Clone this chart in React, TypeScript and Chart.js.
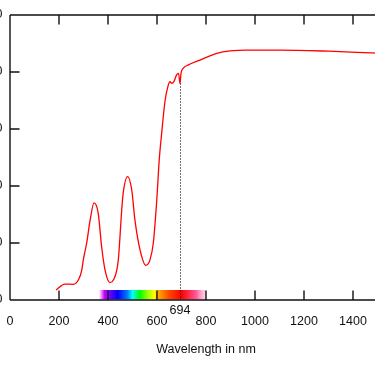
import React, { useEffect, useRef } from "react";
import { Chart, registerables } from "chart.js";

Chart.register(...registerables);

// Absorption / transmission spectrum data (wavelength in nm, value in %)
const wavelengths = [188, 224, 258, 279, 293, 299, 313, 327, 343, 360, 374, 388, 408, 422, 442, 456, 462, 480, 497, 510, 531, 554, 571, 585, 599, 609, 619, 633, 646, 653, 660, 669, 680, 688, 694, 698, 707, 728, 776, 844, 898, 966, 1100, 1300, 1500, 1600];
const transmission = [3.5, 5.6, 5.5, 7.0, 10.5, 14, 20, 28, 34.1, 30.5, 18.7, 10.5, 6.1, 7.0, 14, 31.6, 37.5, 43.3, 38.6, 28, 17.5, 12.2, 14, 20, 35, 49, 58.5, 70, 75.4, 76.6, 76, 76.6, 79, 79.5, 76, 79.5, 81.3, 82.5, 84.2, 86.5, 87.4, 87.7, 87.7, 87.3, 86.6, 86.3];

const xTickMin = 0;
const xTickMax = 1600;
const xTickStep = 200;
const yTickMin = 0;
const yTickMax = 100;
const yTickStep = 20;

const markerNm = 694;
const markerValue = 76;
const markerLabel = "694";

const spectrumNm = [363, 385, 410, 440, 480, 500, 530, 570, 590, 605, 650, 700, 760, 800];
const spectrumColors = [
  "rgba(255,0,255,0)",
  "rgba(200,0,255,1)",
  "rgba(100,0,255,1)",
  "rgba(0,0,255,1)",
  "rgba(0,128,255,1)",
  "rgba(0,255,255,1)",
  "rgba(0,255,0,1)",
  "rgba(190,255,0,1)",
  "rgba(255,255,0,1)",
  "rgba(255,170,0,1)",
  "rgba(255,70,0,1)",
  "rgba(255,0,0,1)",
  "rgba(255,90,150,1)",
  "rgba(255,160,210,0.4)",
];

const FONT = "'Liberation Sans', Arial, sans-serif";
const TEXT = "#111";

const framePlugin = {
  id: "framePlugin",
  beforeDatasetsDraw(chart: any) {
    const { ctx, chartArea, scales } = chart;
    const x = scales.x;
    const { bottom } = chartArea;
    const x0 = x.getPixelForValue(spectrumNm[0]);
    const x1 = x.getPixelForValue(spectrumNm[spectrumNm.length - 1]);
    const g = ctx.createLinearGradient(x0, 0, x1, 0);
    const span = spectrumNm[spectrumNm.length - 1] - spectrumNm[0];
    spectrumNm.forEach((nm, i) => g.addColorStop((nm - spectrumNm[0]) / span, spectrumColors[i]));
    ctx.save();
    ctx.fillStyle = g;
    ctx.fillRect(x0, bottom - 10, x1 - x0, 9.5);
    ctx.restore();
  },
  afterDatasetsDraw(chart: any) {
    const { ctx, chartArea, scales } = chart;
    const { left, right, top, bottom } = chartArea;
    const x = scales.x;
    const y = scales.y;
    ctx.save();
    ctx.strokeStyle = "#111";
    ctx.lineWidth = 1.4;
    ctx.beginPath();
    ctx.moveTo(left, top);
    ctx.lineTo(right, top);
    ctx.moveTo(left, top);
    ctx.lineTo(left, bottom);
    ctx.moveTo(left, bottom);
    ctx.lineTo(right, bottom);
    ctx.moveTo(right, top);
    ctx.lineTo(right, bottom);
    const tl = 9.5;
    x.ticks.forEach((t: any) => {
      const px = x.getPixelForValue(t.value);
      ctx.moveTo(px, bottom);
      ctx.lineTo(px, bottom - tl);
      ctx.moveTo(px, top);
      ctx.lineTo(px, top + tl);
    });
    y.ticks.forEach((t: any) => {
      const py = y.getPixelForValue(t.value);
      ctx.moveTo(left, py);
      ctx.lineTo(left + tl, py);
      ctx.moveTo(right, py);
      ctx.lineTo(right - tl, py);
    });
    ctx.stroke();

    // dotted marker
    const mx = Math.round(x.getPixelForValue(markerNm)) + 0.5;
    ctx.beginPath();
    ctx.lineWidth = 1;
    ctx.setLineDash([1.2, 1.8]);
    ctx.moveTo(mx, y.getPixelForValue(markerValue));
    ctx.lineTo(mx, bottom);
    ctx.stroke();
    ctx.setLineDash([]);

    ctx.fillStyle = TEXT;
    ctx.font = `12.5px ${FONT}`;
    ctx.textAlign = "center";
    ctx.textBaseline = "middle";
    ctx.fillText(markerLabel, x.getPixelForValue(markerNm), bottom + 10.5);
    ctx.restore();
  },
};

export default function App() {
  const ref = useRef<HTMLCanvasElement | null>(null);

  useEffect(() => {
    if (!ref.current) return;
    const data = wavelengths.map((w, i) => ({ x: w, y: transmission[i] }));
    const chart = new Chart(ref.current, {
      type: "line",
      data: {
        datasets: [
          {
            data,
            borderColor: "#ff0000",
            borderWidth: 1.3,
            pointRadius: 0,
            fill: false,
            cubicInterpolationMode: "monotone",
          },
        ],
      },
      options: {
        animation: false,
        responsive: false,
        devicePixelRatio: 1,
        layout: { padding: { top: 15, right: 38, left: 0, bottom: 0 } },
        plugins: { legend: { display: false }, tooltip: { enabled: false }, title: { display: false } },
        scales: {
          x: {
            type: "linear",
            min: xTickMin,
            max: xTickMax,
            afterFit(scale: any) {
              scale.height = 66;
            },
            ticks: {
              stepSize: xTickStep,
              padding: 14.5,
              color: TEXT,
              font: { family: FONT, size: 12.5 },
              maxRotation: 0,
              autoSkip: false,
              callback: (v: any) => String(v),
            },
            grid: { display: false, drawTicks: false },
            border: { display: false },
            title: {
              display: true,
              text: "Wavelength in nm",
              color: TEXT,
              font: { family: FONT, size: 12.5 },
              padding: { top: 4, bottom: 9 },
            },
          },
          y: {
            min: yTickMin,
            max: yTickMax,
            afterFit(scale: any) {
              scale.width = 40;
            },
            ticks: {
              stepSize: yTickStep,
              padding: 7.5,
              color: TEXT,
              font: { family: FONT, size: 12.5 },
              callback: (v: any) => String(v),
            },
            grid: { display: false, drawTicks: false },
            border: { display: false },
          },
        },
      },
      plugins: [framePlugin],
    } as any);
    return () => chart.destroy();
  }, []);

  return (
    <div style={{ position: "fixed", left: 0, top: 0, width: 375, height: 366, overflow: "hidden", background: "#fff" }}>
      <canvas
        ref={ref}
        width={470}
        height={366}
        style={{ position: "absolute", left: -30, top: 0, width: 470, height: 366 }}
      />
    </div>
  );
}
